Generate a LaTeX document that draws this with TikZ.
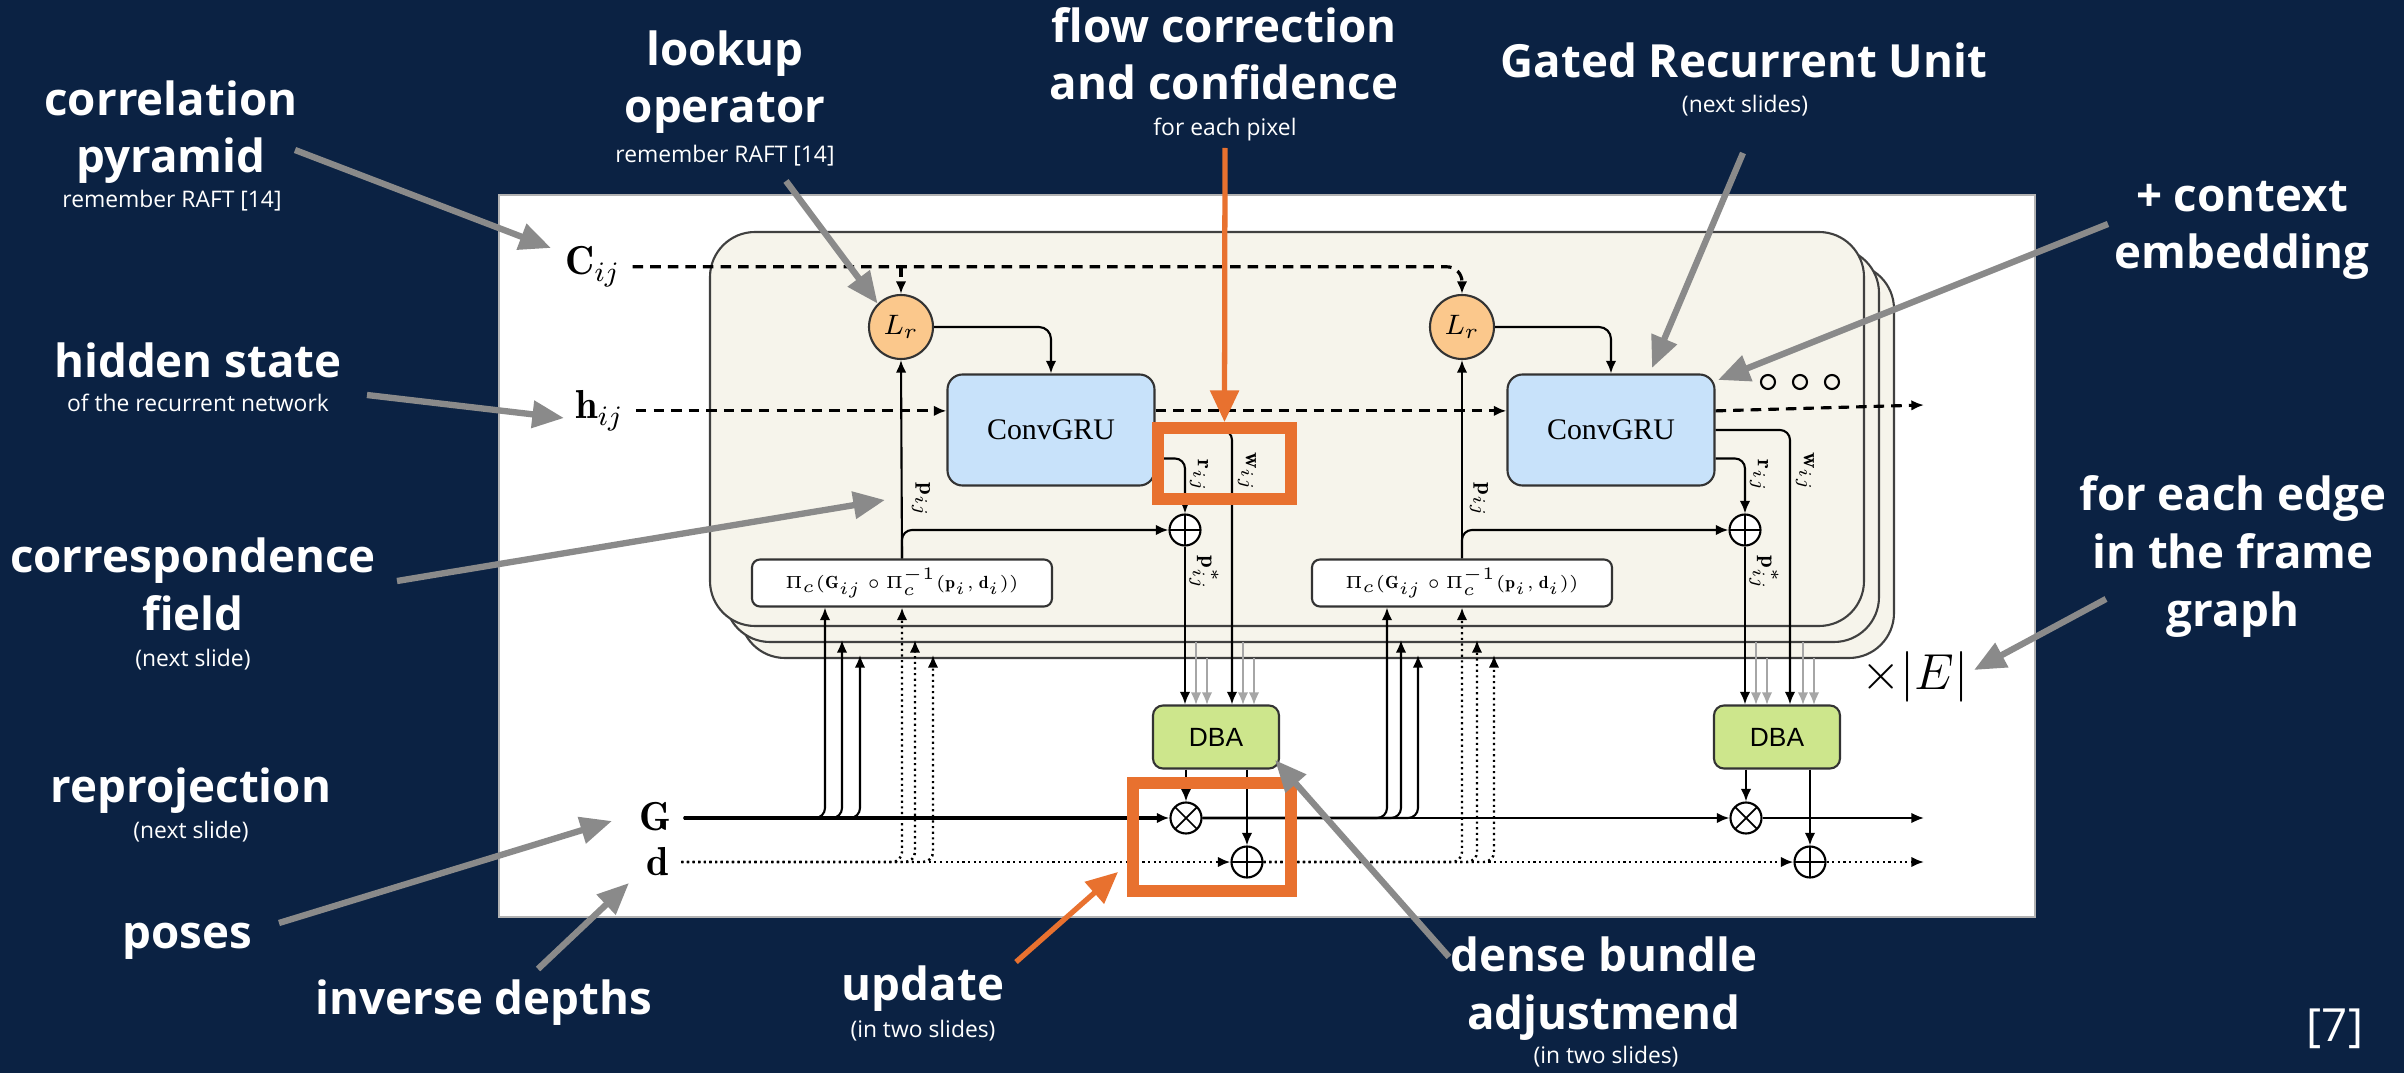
\documentclass[tikz,border=0pt]{standalone}
\usepackage{fontspec}
\newfontfamily\slidefont{Open Sans}
\newfontfamily\grufont{Liberation Serif}
\newfontfamily\dbafont{Liberation Sans}
\usetikzlibrary{arrows.meta}
\definecolor{navy}{HTML}{0B2243}
\definecolor{tan}{HTML}{F6F4EB}
\definecolor{grublue}{HTML}{C8E2FA}
\definecolor{peach}{HTML}{FBC88C}
\definecolor{dbagreen}{HTML}{CDE68C}
\definecolor{hlorange}{HTML}{E8712F}
\definecolor{annotgray}{HTML}{8A8A8A}

\begin{document}
\begin{tikzpicture}[
  x=0.1mm, y=-0.1mm,
  title/.style={text=white, font=\slidefont\bfseries\fontsize{13}{16.4}\selectfont,
    align=center, anchor=base, inner sep=0},
  sub/.style={text=white, font=\slidefont\fontsize{6.5}{8}\selectfont,
    anchor=base, inner sep=0},
  mlbl/.style={font=\fontsize{11.5}{14}\selectfont, anchor=base west},
  lookup/.style={circle, draw=black!80, fill=peach, line width=0.6pt,
    minimum size=6.4mm, inner sep=0, font=\fontsize{8}{9}\selectfont},
  gru/.style={draw=black!80, fill=grublue, rounded corners=1.5mm, line width=0.6pt,
    minimum width=20.7mm, minimum height=11.1mm, font=\grufont\fontsize{8.5}{10}\selectfont},
  proj/.style={draw=black!80, fill=white, rounded corners=0.8mm, line width=0.6pt,
    minimum width=30mm, minimum height=4.7mm, inner sep=0, font=\fontsize{5}{6}\selectfont},
  dba/.style={draw=black!80, fill=dbagreen, rounded corners=1mm, line width=0.6pt,
    minimum width=12.6mm, minimum height=6.3mm, font=\dbafont\fontsize{7.5}{9}\selectfont},
  oplus/.style={circle, draw, fill=white, line width=0.6pt, minimum size=3.1mm, inner sep=0,
    path picture={\draw[line width=0.5pt] (path picture bounding box.north) -- (path picture bounding box.south)
      (path picture bounding box.west) -- (path picture bounding box.east);}},
  otimes/.style={circle, draw, fill=white, line width=0.6pt, minimum size=3.1mm, inner sep=0,
    path picture={\draw[line width=0.5pt] (path picture bounding box.north west) -- (path picture bounding box.south east)
      (path picture bounding box.north east) -- (path picture bounding box.south west);}},
  vlbl/.style={rotate=-90, inner sep=0, font=\fontsize{6.5}{7}\selectfont},
  panel/.style={draw=black!75, fill=tan, line width=0.6pt, rounded corners=4.5mm},
  arr/.style={-{Latex[length=3.6pt,width=3pt]}, line width=0.6pt},
  dashln/.style={arr, dash pattern=on 3pt off 2pt, line width=0.9pt},
  dotln/.style={arr, densely dotted, line width=0.7pt},
  grayarr/.style={-{Latex[length=3.6pt,width=3pt]}, draw=black!35, line width=0.6pt},
  hl/.style={draw=hlorange, line width=3.4pt, inner sep=0},
  gannot/.style={draw=annotgray, line width=1.8pt, -{Triangle[length=9pt,width=7.5pt]}},
  oannot/.style={draw=hlorange, line width=1.5pt, -{Triangle[length=9pt,width=8pt]}},
]

% Slide background.
\fill[navy] (0,0) rectangle (2404,1073);
\useasboundingbox (0,0) rectangle (2404,1073);
\node[draw=black!30, fill=white, line width=0.8pt, minimum width=153.6mm,
      minimum height=72.2mm, inner sep=0] (figure) at (1267,556) {};

% Stacked update blocks (one per edge).
\foreach \dx/\dy in {30/32, 15/16, 0/0}
  \draw[panel] (710+\dx,232+\dy) rectangle (1864+\dx,626+\dy);

% Inputs.
\node[mlbl] (Cin) at (553,275) {$\mathbf{C}_{ij}$};
\node[mlbl] (hin) at (563,419) {$\mathbf{h}_{ij}$};
\node[mlbl] (Gin) at (627,830) {$\mathbf{G}$};
\node[mlbl] (din) at (634,875) {$\mathbf{d}$};
\coordinate (hout) at (1924,405);
\coordinate (Gout) at (1924,818);
\coordinate (dout) at (1924,862);

% First iteration.
\node[lookup] (lr1) at (901,327) {$L_r$};
\node[gru] (gru1) at (1051,430) {ConvGRU};
\node[proj] (proj1) at (902,583) {$\Pi_c(\mathbf{G}_{ij}\circ\Pi_c^{-1}(\mathbf{p}_i,\mathbf{d}_i))$};
\node[oplus] (add1) at (1185,530) {};
\node[dba] (dba1) at (1216,737) {DBA};
\node[otimes] (mul1) at (1186,818) {};
\node[oplus] (upd1) at (1247,862) {};

% Second iteration.
\node[lookup] (lr2) at (1462,327) {$L_r$};
\node[gru] (gru2) at (1611,430) {ConvGRU};
\node[proj] (proj2) at (1462,583) {$\Pi_c(\mathbf{G}_{ij}\circ\Pi_c^{-1}(\mathbf{p}_i,\mathbf{d}_i))$};
\node[oplus] (add2) at (1745,530) {};
\node[dba] (dba2) at (1777,737) {DBA};
\node[otimes] (mul2) at (1746,818) {};
\node[oplus] (upd2) at (1810,862) {};

% Correlation and hidden state.
\draw[dashln, rounded corners=1.5mm] (Cin.east) -| (lr2.north);
\draw[dashln] (Cin.east -| lr1.north) -- (lr1.north);
\draw[dashln] (hin.east) -- (hin.east -| gru1.west);
\draw[dashln] (gru1.east |- hin.east) -- (gru2.west |- hin.east);
\draw[dashln] (gru2.east |- hin.east) -- (hout);
\foreach \ox in {1768,1800,1832}
  \draw[line width=0.6pt] (\ox,382) circle (0.7mm);

% Inside each block.
\foreach \i in {1,2} {
  \draw[arr] (proj\i.north) -- (lr\i.south);
  \draw[arr, rounded corners=1.2mm] (lr\i.east) -| (gru\i.north);
  \draw[arr, rounded corners=1mm] (proj\i.north) |- (add\i.west);
  \draw[arr, rounded corners=1mm] ([yshift=-2.85mm]gru\i.east) -| (add\i.north);
  \draw[arr] (add\i.south) -- (add\i |- dba\i.north);
  \draw[arr] (mul\i |- dba\i.south) -- (mul\i.north);
  \draw[arr] (upd\i |- dba\i.south) -- (upd\i.north);
}
\draw[arr, rounded corners=1mm] (gru1.east) -| ([xshift=1.6mm]dba1.north);
\draw[arr, rounded corners=1mm] (gru2.east) -| ([xshift=1.3mm]dba2.north);

\node[vlbl] (pij1) at (921,500) {$\mathbf{p}_{ij}$};
\node[vlbl] (rij1) at (1199,476) {$\mathbf{r}_{ij}$};
\node[vlbl] (wij1) at (1247,472) {$\mathbf{w}_{ij}$};
\node[vlbl] (pst1) at (1204,573) {$\mathbf{p}^*_{ij}$};
\node[vlbl] (pij2) at (1479,500) {$\mathbf{p}_{ij}$};
\node[vlbl] (rij2) at (1759,476) {$\mathbf{r}_{ij}$};
\node[vlbl] (wij2) at (1805,472) {$\mathbf{w}_{ij}$};
\node[vlbl] (pst2) at (1764,573) {$\mathbf{p}^*_{ij}$};

% Copies from the other edges.
\foreach \gx/\gy in {1196/642, 1207/658, 1243/642, 1254/658,
                     1756/642, 1767/658, 1803/642, 1814/658}
  \draw[grayarr] (\gx,\gy) -- (\gx,705);
\node[font=\fontsize{14.5}{17}\selectfont] (edges) at (1915,677) {$\times\big|E\big|$};

% Poses and depths.
\foreach \bx/\by in {842/640, 860/655}
  \draw[arr, rounded corners=1mm] (Gin.east |- mul1) -| (\bx,\by);
\draw[arr, rounded corners=1mm] (Gin.east |- mul1) -| ([xshift=-7.7mm]proj1.south);
\foreach \bx/\by in {915/640, 933/655}
  \draw[dotln, rounded corners=1mm] (din.east |- upd1) -| (\bx,\by);
\draw[dotln, rounded corners=1mm] (din.east |- upd1) -| (proj1.south);
\foreach \bx/\by in {1401/640, 1418/655}
  \draw[arr, rounded corners=1mm] (mul1.east) -| (\bx,\by);
\draw[arr, rounded corners=1mm] (mul1.east) -| ([xshift=-7.5mm]proj2.south);
\foreach \bx/\by in {1477/640, 1494/655}
  \draw[dotln, rounded corners=1mm] (upd1.east) -| (\bx,\by);
\draw[dotln, rounded corners=1mm] (upd1.east) -| (proj2.south);

\draw[arr, line width=0.9pt] (Gin.east |- mul1) -- (mul1.west);
\draw[arr] (mul1.east) -- (mul2.west);
\draw[arr] (mul2.east) -- (Gout);
\draw[dotln] (din.east |- upd1) -- (upd1.west);
\draw[dotln] (upd1.east) -- (upd2.west);
\draw[dotln] (upd2.east) -- (dout);

% Highlights.
\node[hl, minimum width=13.3mm, minimum height=7.1mm] (flowbox) at (1224.5,463.5) {};
\node[hl, minimum width=15.8mm, minimum height=10.8mm] (updbox) at (1212,837) {};

% Slide labels (placed at the baseline of their last line).
\node[title] (corrlbl) at (171,173) {correlation\\pyramid};
\node[sub] (corrsub) at (172,208) {remember RAFT [14]};
\node[title] (lookuplbl) at (725,123) {lookup\\operator};
\node[sub] (lookupsub) at (725,163) {remember RAFT [14]};
\node[title] (flowlbl) at (1224,100) {flow correction\\and confidence};
\node[sub] (flowsub) at (1225,136) {for each pixel};
\node[title] (grulbl) at (1744,78) {Gated Recurrent Unit};
\node[sub] (grusub) at (1745,113) {(next slides)};
\node[title] (ctxlbl) at (2242,269) {+ context\\embedding};
\node[title] (hidlbl) at (198,378) {hidden state};
\node[sub] (hidsub) at (198,412) {of the recurrent network};
\node[title] (corrflbl) at (193,630) {correspondence\\field};
\node[sub] (corrfsub) at (193,666) {(next slide)};
\node[title] (reprojlbl) at (191,802) {reprojection};
\node[sub] (reprojsub) at (191,838) {(next slide)};
\node[title] (poseslbl) at (187,948) {poses};
\node[title] (depthlbl) at (484,1014) {inverse depths};
\node[title] (updlbl) at (923,1000) {update};
\node[sub] (updsub) at (923,1037) {(in two slides)};
\node[title] (dbalbl) at (1604,1029) {dense bundle\\adjustmend};
\node[sub] (dbasub) at (1606,1063) {(in two slides)};
\node[title] (edgelbl) at (2233,626) {for each edge\\in the frame\\graph};
\node[text=white, font=\slidefont\fontsize{13}{16}\selectfont, anchor=base, inner sep=0]
  (ref) at (2335,1041) {[7]};

% Pointer arrows.
\coordinate (corrtail) at (295,150);   \coordinate (corrtip) at (551,248);
\coordinate (lookuptail) at (786,181);
\coordinate (hidtail) at (367,395);    \coordinate (hidtip) at (564,418);
\coordinate (corrftail) at (397,581);  \coordinate (corrftip) at (885,500);
\coordinate (posestail) at (279,923);  \coordinate (posestip) at (612,821);
\coordinate (depthtail) at (538,969);  \coordinate (depthtip) at (629,883);
\coordinate (grutail) at (1743,153);   \coordinate (grutip) at (1652,368);
\coordinate (ctxtail) at (2108,224);   \coordinate (ctxtip) at (1718,380);
\coordinate (edgetail) at (2106,599);  \coordinate (edgetip) at (1974,670);
\coordinate (dbatail) at (1449,957);   \coordinate (dbatip) at (1275,760);
\coordinate (flowtail) at (1225,148);
\coordinate (updtail) at (1016,962);   \coordinate (updtip) at (1118,872);

\draw[gannot] (corrtail) -- (corrtip);
\draw[gannot] (lookuptail) -- (lr1.north west);
\draw[gannot] (hidtail) -- (hidtip);
\draw[gannot] (corrftail) -- (corrftip);
\draw[gannot] (posestail) -- (posestip);
\draw[gannot] (depthtail) -- (depthtip);
\draw[gannot] (grutail) -- (grutip);
\draw[gannot] (ctxtail) -- (ctxtip);
\draw[gannot] (edgetail) -- (edgetip);
\draw[gannot] (dbatail) -- (dbatip);
\draw[oannot] (flowtail) -- (flowbox.north);
\draw[oannot] (updtail) -- (updtip);

\end{tikzpicture}
\end{document}
